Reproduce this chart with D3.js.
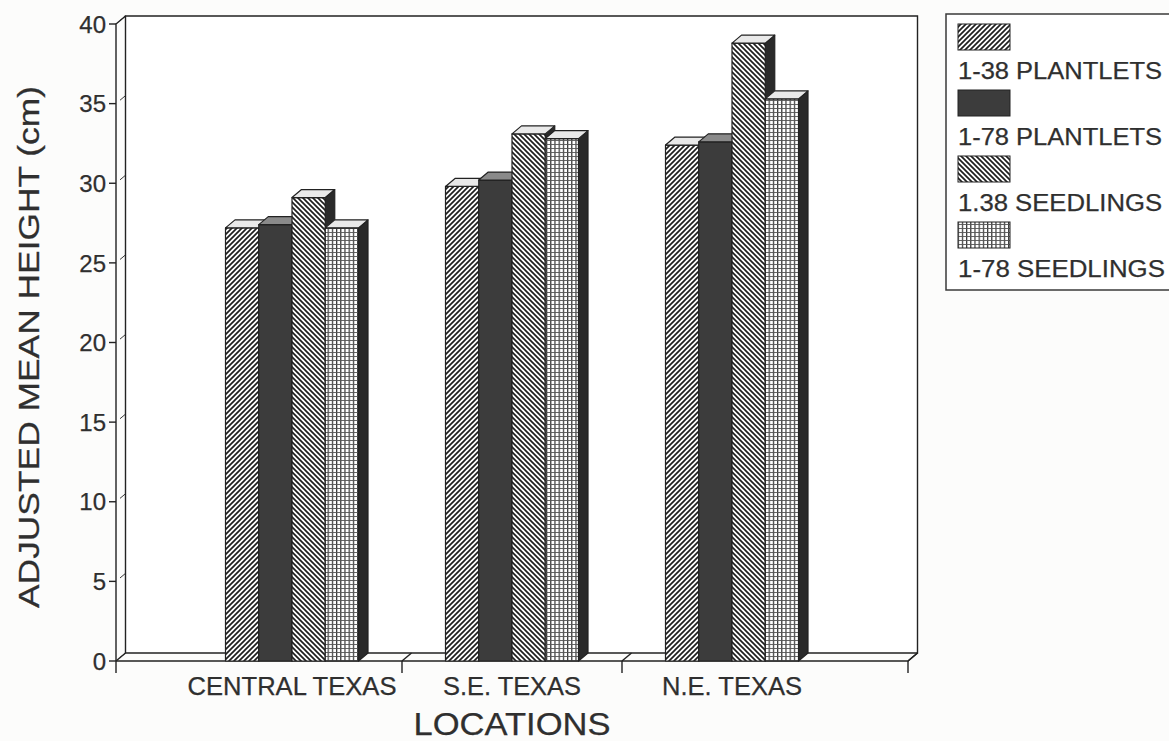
<!DOCTYPE html>
<html>
<head>
<meta charset="utf-8">
<script src="https://cdn.jsdelivr.net/npm/d3@7"></script>
<style>
  html, body { margin: 0; padding: 0; background: #fcfcfb; }
  svg { display: block; }
  text { font-family: "Liberation Sans", Arial, sans-serif; fill: #2f2f2f; stroke: #2f2f2f; stroke-width: 0.25; }
</style>
</head>
<body>
<svg id="chart" width="1169" height="741"></svg>
<script>
// data
const categories = ["CENTRAL TEXAS", "S.E. TEXAS", "N.E. TEXAS"]
const seriesNames = ["1-38 PLANTLETS", "1-78 PLANTLETS", "1.38 SEEDLINGS", "1-78 SEEDLINGS"]
const plantlets138 = [27.2, 29.8, 32.4]
const plantlets178 = [27.4, 30.2, 32.6]
const seedlings138 = [29.1, 33.1, 38.8]
const seedlings178 = [27.2, 32.8, 35.3]
const yTicks = [0, 5, 10, 15, 20, 25, 30, 35, 40]

const seriesValues = [plantlets138, plantlets178, seedlings138, seedlings178]
const fills = ["url(#hatchUp)", "#3c3c3c", "url(#hatchDown)", "url(#grid)"]

// layout
const left = 116, right = 908, floorY = 661, topY = 24
const dx = 9.5, dy = -8
const groupW = 133
const ink = "#222"

const svg = d3.select("#chart")

const y = d3.scaleLinear().domain([0, 40]).range([floorY, topY])
const x = d3.scaleBand().domain(categories).range([left, right]).paddingInner(0).paddingOuter(0.3)
const xs = d3.scaleBand().domain(seriesNames).range([0, groupW])

// patterns
const defs = svg.append("defs")
function hatch(id, d, size) {
    const p = defs.append("pattern")
        .attr("id", id)
        .attr("patternUnits", "userSpaceOnUse")
        .attr("width", size).attr("height", size)
    p.append("rect").attr("width", size).attr("height", size).attr("fill", "#fff")
    p.append("path").attr("d", d).attr("stroke", "#1e1e1e").attr("stroke-width", 1.7)
}
hatch("hatchUp", "M-1,1 l2,-2 M0,5 l5,-5 M4,6 l2,-2", 5)
hatch("hatchDown", "M-1,4 l2,2 M0,0 l5,5 M4,-1 l2,2", 5)
const grid = defs.append("pattern")
    .attr("id", "grid")
    .attr("patternUnits", "userSpaceOnUse")
    .attr("width", 4.2).attr("height", 4)
grid.append("rect").attr("width", 4.2).attr("height", 4).attr("fill", "#fff")
grid.append("path").attr("d", "M0.6,0 V4").attr("stroke", "#333").attr("stroke-width", 1.2)
grid.append("path").attr("d", "M0,0.5 H4.2").attr("stroke", "#555").attr("stroke-width", 0.9)

// frame: side wall, back wall, floor
const frame = svg.append("g")
    .attr("fill", "none")
    .attr("stroke", ink)
    .attr("stroke-width", 1.4)

const backTop = y(40) + dy
frame.append("path")
    .attr("fill", "#fff")
    .attr("d", `M${left + dx},${floorY + dy} V${backTop} H${right + dx} V${floorY + dy} Z`)
frame.append("path")
    .attr("d", `M${left},${floorY + 12} V${y(40)} L${left + dx},${backTop}`)
frame.append("path")
    .attr("d", `M${left},${floorY} H${right} L${right + dx},${floorY + dy}`)
frame.append("path")
    .attr("d", `M${left},${floorY} L${left + dx},${floorY + dy}`)

// y ticks
yTicks.forEach(t => {
    frame.append("path")
        .attr("d", `M${left - 7},${y(t)} H${left}`)
    frame.append("path")
        .attr("stroke-width", 0.9)
        .attr("d", `M${left + 4},${y(t) - 3.4} L${left + dx},${y(t) + dy}`)
    svg.append("text")
        .attr("x", left - 10)
        .attr("y", y(t))
        .attr("dy", "0.36em")
        .attr("text-anchor", "end")
        .attr("font-size", 24)
        .text(t)
})

// x band boundaries
const boundaries = categories.slice(1).map(c => x(c)).concat([right])
boundaries.forEach(b => {
    frame.append("path").attr("d", `M${b},${floorY} V${floorY + 12}`)
    frame.append("path").attr("d", `M${b},${floorY} L${b + dx},${floorY + dy}`)
})

// bars
const bars = svg.append("g")
    .attr("stroke", ink)
    .attr("stroke-width", 1.2)
    .attr("stroke-linejoin", "round")

categories.forEach((c, ci) => {
    const gx = x(c) + (x.bandwidth() - groupW) / 2
    seriesNames.forEach((s, si) => {
        const v = seriesValues[si][ci]
        const x0 = gx + xs(s), w = xs.bandwidth()
        const yt = y(v), yb = y(0)
        bars.append("path")
            .attr("fill", "#2a2a2a")
            .attr("d", `M${x0 + w},${yb} L${x0 + w + dx},${yb + dy} V${yt + dy} L${x0 + w},${yt} Z`)
        bars.append("rect")
            .attr("x", x0).attr("y", yt)
            .attr("width", w).attr("height", yb - yt)
            .attr("fill", fills[si])
        bars.append("path")
            .attr("fill", si === 1 ? "#8a8a8a" : "#e9e9e9")
            .attr("d", `M${x0},${yt} L${x0 + dx},${yt + dy} H${x0 + w + dx} L${x0 + w},${yt} Z`)
    })
})

// category labels
const catWidths = [209, 138, 140]
categories.forEach((c, ci) => {
    svg.append("text")
        .attr("x", x(c) + x.bandwidth() / 2)
        .attr("y", 695)
        .attr("text-anchor", "middle")
        .attr("font-size", 25)
        .attr("textLength", catWidths[ci])
        .attr("lengthAdjust", "spacingAndGlyphs")
        .text(c)
})

// axis titles
svg.append("text")
    .attr("x", (left + right) / 2 + 0)
    .attr("y", 735)
    .attr("text-anchor", "middle")
    .attr("font-size", 32)
    .attr("textLength", 197)
    .attr("lengthAdjust", "spacingAndGlyphs")
    .text("LOCATIONS")

svg.append("text")
    .attr("transform", "translate(39,347) rotate(-90)")
    .attr("text-anchor", "middle")
    .attr("font-size", 30)
    .attr("textLength", 522)
    .attr("lengthAdjust", "spacingAndGlyphs")
    .text("ADJUSTED MEAN HEIGHT (cm)")

// legend
const legend = svg.append("g")
legend.append("rect")
    .attr("x", 946).attr("y", 14)
    .attr("width", 260).attr("height", 276)
    .attr("fill", "#fff")
    .attr("stroke", "#3a3a3a")
    .attr("stroke-width", 1.5)

seriesNames.forEach((s, si) => {
    legend.append("rect")
        .attr("x", 958).attr("y", 24 + si * 66)
        .attr("width", 52).attr("height", 26)
        .attr("fill", fills[si])
        .attr("stroke", ink)
        .attr("stroke-width", 1)
    legend.append("text")
        .attr("x", 958).attr("y", 79 + si * 66)
        .attr("font-size", 23)
        .attr("textLength", si === 3 ? 207 : 204)
        .attr("lengthAdjust", "spacingAndGlyphs")
        .text(s)
})
</script>
</body>
</html>
